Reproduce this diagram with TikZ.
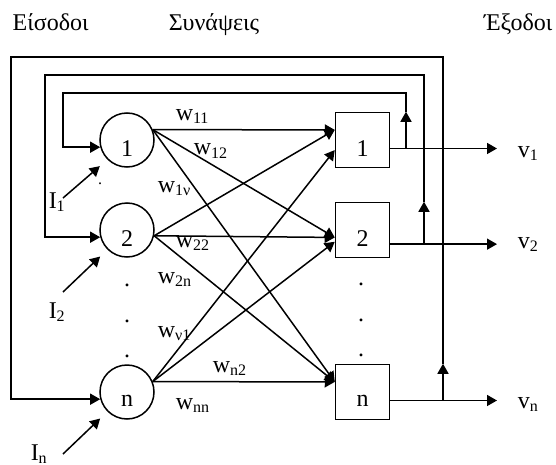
\documentclass[tikz,border=0pt]{standalone}
\usepackage{fontspec}
\setmainfont{Liberation Serif}
\usetikzlibrary{arrows.meta,positioning}
\definecolor{ink}{HTML}{000000}
\tikzset{
  every picture/.style={line width=0.75pt, draw=ink, text=ink, font=\fontsize{12}{14}\selectfont},
  neuron/.style={draw=ink, circle, minimum size=27pt, inner sep=0pt},
  unit/.style={draw=ink, minimum width=27pt, minimum height=27.5pt, inner sep=0pt},
  digit/.style={yshift=-4.5pt, inner sep=0pt},
  weight/.style={anchor=base west, inner sep=0pt},
  tag/.style={anchor=base west, inner sep=0pt},
  dot/.style={anchor=base, inner sep=0pt},
  flow/.style={-{Triangle[length=5pt, width=5.5pt]}},
}
\begin{document}
\begin{tikzpicture}[x=0.5pt, y=-0.5pt]
\useasboundingbox (0,0) rectangle (556,465);
% headings
\node[tag] (hin) at (12,31) {Είσοδοι};
\node[tag] (hsyn) at (168,31) {Συνάψεις};
\node[tag, anchor=base east] (hout) at (553,31) {Έξοδοι};
% neurons and output units
\node[neuron, label={[digit]center:1}] (n1) at (127,140) {};
\node[neuron, label={[digit]center:2}] (n2) at (127,230) {};
\node[neuron, label={[digit]center:n}] (nn) at (127,392) {};
\node[unit, right=90pt of n1, label={[digit]center:1}] (o1) {};
\node[unit, right=90pt of n2, label={[digit]center:2}] (o2) {};
\node[unit, right=90pt of nn, label={[digit]center:n}] (on) {};
% vertical dots
\node[dot, font=\fontsize{8}{9}\selectfont] (d0) at (100,184) {.};
\foreach \y [count=\k] in {286,322,357} \node[dot] (da\k) at (127,\y) {.};
\foreach \y [count=\k] in {285,321,356} \node[dot] (db\k) at (361,\y) {.};
% synapses
\foreach \a/\b in {n1.22/o1.160, n1.22/o2.195, n1.22/on.160, n2.-12/o1.160, n2.-12/o2.195, n2.-12/on.160, nn.22/o1.200, nn.22/o2.203, nn.22/on.160}
  \draw[flow] (\a) -- (\b);
\node[weight] (w11) at (175,120) {w\textsubscript{11}};
\node[weight] (w12) at (193,155) {w\textsubscript{12}};
\node[weight] (w1v) at (157,192) {w\textsubscript{1ν}};
\node[weight] (w22) at (175,247) {w\textsubscript{22}};
\node[weight] (w2n) at (157,283) {w\textsubscript{2n}};
\node[weight] (wv1) at (157,337) {w\textsubscript{ν1}};
\node[weight] (wn2) at (212,372) {w\textsubscript{n2}};
\node[weight] (wnn) at (175,409) {w\textsubscript{nn}};
% inputs
\node[tag] (i1) at (48,208) {I\textsubscript{1}};
\node[tag] (i2) at (48,318) {I\textsubscript{2}};
\node[tag] (in) at (30,460) {I\textsubscript{n}};
\coordinate (s1) at (63,198);
\coordinate (s2) at (63,292);
\coordinate (sn) at (63,454);
\foreach \s/\n in {s1/n1, s2/n2, sn/nn} \draw[flow, shorten >=5pt] (\s) -- (\n.225);
% outputs
\node[tag] (y1) at (517,157) {v\textsubscript{1}};
\node[tag] (y2) at (517,248) {v\textsubscript{2}};
\node[tag] (yn) at (517,408) {v\textsubscript{n}};
\foreach \o/\a/\y in {o1/-17/y1, o2/-27/y2, on/-17/yn}
  \draw[flow, shorten >=10pt] (\o.\a) -- (\o.\a -| \y.west);
% feedback loops
\coordinate (r1) at (406,93); \coordinate (l1) at (63,93);
\coordinate (r2) at (424,75); \coordinate (l2) at (45,75);
\coordinate (rn) at (443,57); \coordinate (ln) at (11,57);
\foreach \o/\a/\r/\l/\n in {o1/-17/r1/l1/n1, o2/-27/r2/l2/n2, on/-17/rn/ln/nn} {
  \draw[flow] (\o.\a -| \r) -- (\o.north -| \r);
  \draw[flow] (\o.north -| \r) -- (\r) -- (\l) |- (\n.195);
}
\end{tikzpicture}
\end{document}
